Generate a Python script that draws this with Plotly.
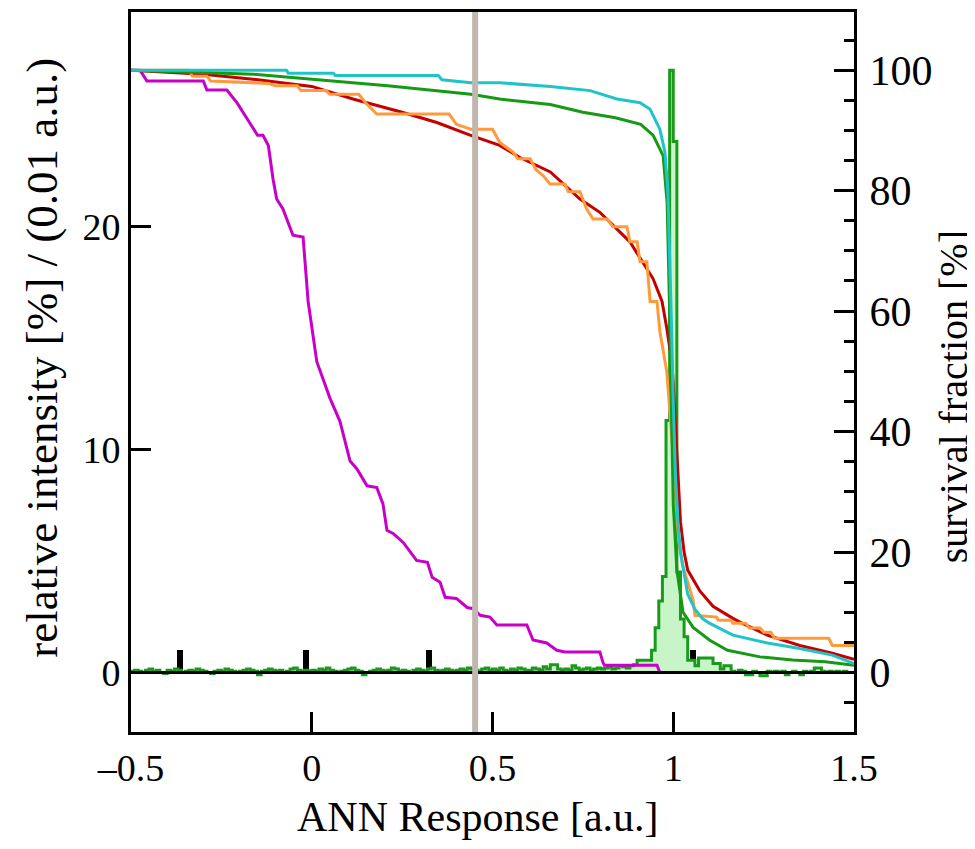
import numpy as np
import plotly.graph_objects as go

# --- datos ---

# histograma verde: intensidad relativa [%] por bin de 0.01 a.u. (de -0.5 a 1.5)
hist_start = -0.5
hist_width = 0.01
hist_green = [
    0.05, 0.1, 0.05, 0.0, 0.1, 0.15, 0.05, 0.1, 0.0, -0.05,
    0.1, 0.05, 0.15, 0.1, 0.0, 0.05, 0.1, 0.05, 0.15, 0.1,
    0.05, 0.0, -0.05, 0.05, 0.1, 0.05, 0.15, 0.1, 0.05, 0.0,
    0.05, 0.1, 0.15, 0.1, 0.05, -0.1, 0.05, 0.1, 0.15, 0.1,
    0.05, 0.1, 0.0, 0.05, 0.15, 0.2, 0.1, 0.05, 0.1, 0.05,
    0.1, 0.05, 0.15, 0.1, 0.2, 0.1, 0.05, 0.0, 0.05, 0.1,
    0.15, 0.2, 0.1, 0.05, -0.1, 0.0, 0.05, 0.1, 0.15, 0.1,
    0.05, 0.1, 0.2, 0.15, 0.05, 0.1, 0.05, 0.0, 0.1, 0.15,
    0.1, 0.05, 0.15, 0.2, 0.1, 0.05, 0.1, 0.15, 0.1, 0.05,
    0.1, 0.15, 0.1, 0.2, 0.15, 0.1, 0.05, 0.15, 0.2, 0.1,
    0.15, 0.1, 0.2, 0.1, 0.05, 0.15, 0.1, 0.2, 0.15, 0.1,
    0.1, 0.2, 0.15, 0.1, 0.25, 0.15, 0.35, 0.35, 0.15, 0.1,
    0.15, 0.1, 0.3, 0.2, 0.1, 0.15, 0.2, 0.1, 0.15, 0.2,
    0.15, 0.2, 0.25, 0.15, 0.2, 0.3, 0.25, 0.2, 0.3, 0.35,
    0.55, 0.55, 0.55, 0.55, 1.0, 2.0, 3.2, 4.3, 11.3, 27.0,
    23.8, 4.5, 2.4, 1.6, 0.55, 0.55, 0.3, 0.65, 0.65, 0.65,
    0.65, 0.4, 0.4, 0.15, 0.3, 0.3, 0.05, 0.0, 0.1, 0.05,
    -0.1, -0.1, 0.05, 0.0, -0.15, -0.15, 0.05, 0.0, 0.05, 0.0,
    0.05, -0.1, 0.0, 0.05, 0.0, -0.1, 0.05, 0.0, 0.05, 0.2,
    0.2, 0.05, 0.0, 0.05, 0.0, 0.05, 0.0, 0.05, 0.0, 0.0,
]

# barras negras (intensidad relativa [%])
black_x = [-0.365, -0.015, 0.325, 1.055]
black_y = [1.0, 1.0, 1.0, 1.0]

# valor de corte (linea gris)
cut_value = 0.452

# fracciones de supervivencia [%]
cyan_x = [-0.5, -0.07, -0.065, 0.06, 0.065, 0.35, 0.36, 0.44, 0.52, 0.66, 0.77,
          0.844, 0.908, 0.936, 0.963, 0.977, 0.985, 0.99, 0.995, 1.0, 1.006, 1.013,
          1.02, 1.04, 1.06, 1.08, 1.1, 1.165, 1.26, 1.35, 1.44, 1.5]
cyan_y = [100, 100, 99.5, 99.5, 99.1, 99.1, 98.4, 97.9, 97.9, 97.3, 96.6,
          95.2, 94.6, 93.5, 90.2, 86.4, 80, 70, 58, 45, 33, 25,
          20, 13, 10.5, 9, 8.2, 6.2, 4.9, 4.0, 2.9, 1.5]

green_x = [-0.5, -0.16, 0.21, 0.44, 0.52, 0.66, 0.75, 0.84, 0.91, 0.944, 0.972,
           0.983, 0.99, 0.995, 1.0, 1.01, 1.027, 1.055, 1.1, 1.15, 1.24, 1.33,
           1.42, 1.5]
green_y = [100, 99.3, 97.4, 96.0, 95.2, 94.3, 93.0, 92.1, 91.0, 89.2, 85.8,
           78, 60, 40, 28, 17, 10, 7.5, 5.4, 3.7, 2.6, 2.1,
           1.8, 1.2]

red_x = [-0.5, -0.3, -0.163, 0.0, 0.114, 0.25, 0.346, 0.438, 0.52, 0.576, 0.66,
         0.742, 0.797, 0.88, 0.944, 0.969, 0.982, 0.995, 1.0, 1.005, 1.01, 1.02,
         1.03, 1.04, 1.074, 1.11, 1.165, 1.19, 1.26, 1.35, 1.44, 1.5]
red_y = [100, 99.3, 98.5, 97.3, 95.2, 93.0, 91.3, 89.2, 87.5, 85.5, 83.1,
         78.6, 76.4, 71.5, 65.4, 61.6, 57.2, 52, 48, 42, 35, 25,
         20, 17, 13.5, 11, 9, 8.2, 6.2, 4.5, 3.2, 2.2]

orange_x = [-0.5, -0.34, -0.33, -0.29, -0.28, -0.12, -0.1, -0.04, -0.03, 0.04,
            0.05, 0.13, 0.15, 0.18, 0.38, 0.4, 0.44, 0.5, 0.52, 0.557, 0.57,
            0.604, 0.62, 0.64, 0.659, 0.7, 0.71, 0.742, 0.76, 0.778, 0.817,
            0.833, 0.872, 0.88, 0.9, 0.908, 0.927, 0.936, 0.955, 0.963, 0.982,
            0.99, 1.0, 1.008, 1.015, 1.025, 1.04, 1.055, 1.06, 1.12, 1.125,
            1.16, 1.165, 1.2, 1.21, 1.24, 1.25, 1.27, 1.28, 1.43, 1.44, 1.5]
orange_y = [100, 100, 99.0, 99.0, 98.2, 97.8, 97.4, 97.4, 96.6, 96.6,
            96.0, 96.0, 94.5, 92.7, 92.7, 91.0, 90.2, 90.2, 88, 86.4, 85.3,
            85.3, 83.5, 82.5, 81.1, 81.1, 79.8, 79.8, 77, 75.3, 75.3,
            74, 74, 71.5, 71.5, 68.2, 68.2, 61.6, 61.6, 56.6, 50,
            44, 36, 28, 22, 18, 15, 12, 9.5, 9.2, 8.7,
            8.7, 8.2, 8.2, 7.4, 7.4, 6.7, 6.7, 5.7, 5.7, 4.5, 4.5]

magenta_x = [-0.5, -0.475, -0.456, -0.3, -0.29, -0.235, -0.207, -0.18, -0.15,
             -0.135, -0.12, -0.107, -0.097, -0.08, -0.052, -0.024, -0.01, 0.014,
             0.031, 0.05, 0.078, 0.106, 0.125, 0.153, 0.18, 0.197, 0.208, 0.225,
             0.253, 0.29, 0.32, 0.333, 0.355, 0.369, 0.4, 0.43, 0.447, 0.466,
             0.493, 0.512, 0.595, 0.612, 0.65, 0.678, 0.7, 0.797, 0.806, 0.81,
             0.955, 0.963]
magenta_y = [100, 100, 98.2, 98.2, 96.7, 96.7, 94.6, 92.1, 89.2,
             89.2, 87.5, 81.9, 78.6, 77, 72.6, 72.3, 61.6, 51.6,
             48.9, 45.6, 41.7, 35.1, 33.8, 31, 30.7, 28, 23.6, 23.1,
             21.6, 18.6, 18.3, 15.8, 15, 12.5, 12.3, 10.8, 10.6, 9.5,
             9.2, 7.9, 7.9, 5.4, 4.9, 3.7, 3.4, 3.4, 1.6, 1.2,
             1.2, 0]

x_ticks = [-0.5, 0, 0.5, 1, 1.5]
x_ticktext = ["\u20130.5", "0", "0.5", "1", "1.5"]
left_ticks = [0, 10, 20]
right_ticks = [0, 20, 40, 60, 80, 100]

colors = {
    "hist": "#1a9a1a",
    "hist_fill": "#c8f5c8",
    "cyan": "#20c4c8",
    "green": "#159a15",
    "red": "#c40000",
    "orange": "#ff9a3c",
    "magenta": "#c800c8",
    "cut": "#c0b7ae",
}

FONT = "Liberation Serif"

fig = go.Figure()

# histograma verde con relleno (eje izquierdo)
edges = hist_start + hist_width * np.arange(len(hist_green) + 1)
fig.add_trace(
    go.Scatter(
        x=edges,
        y=hist_green + [hist_green[-1]],
        mode="lines",
        line=dict(color=colors["hist"], width=3, shape="hv"),
        fill="tozeroy",
        fillcolor=colors["hist_fill"],
        showlegend=False,
    )
)

# barras negras
fig.add_trace(
    go.Bar(
        x=black_x,
        y=black_y,
        width=0.017,
        marker=dict(color="black", line=dict(width=0)),
        showlegend=False,
    )
)

# curvas de supervivencia (eje derecho)
for xs, ys, c in [
    (magenta_x, magenta_y, colors["magenta"]),
    (red_x, red_y, colors["red"]),
    (orange_x, orange_y, colors["orange"]),
    (green_x, green_y, colors["green"]),
    (cyan_x, cyan_y, colors["cyan"]),
]:
    fig.add_trace(
        go.Scatter(
            x=xs,
            y=ys,
            mode="lines",
            line=dict(color=c, width=3),
            yaxis="y2",
            showlegend=False,
        )
    )

# linea de cero y linea de corte
fig.add_shape(type="line", xref="paper", x0=0, x1=1, yref="y", y0=0, y1=0,
              line=dict(color="black", width=3), layer="above")
fig.add_shape(type="line", xref="x", x0=cut_value, x1=cut_value, yref="paper",
              y0=0, y1=1, line=dict(color=colors["cut"], width=6), layer="above")

# titulos de ejes
fig.add_annotation(text="ANN Response [a.u.]", xref="paper", yref="paper",
                   x=0.48, y=-0.1176, showarrow=False, xanchor="center",
                   yanchor="middle", font=dict(size=42, family=FONT, color="black"))
fig.add_annotation(text="relative intensity [%] / (0.01 a.u.)", xref="paper",
                   yref="paper", x=-0.123, y=0.52, textangle=-90, showarrow=False,
                   xanchor="center", yanchor="middle",
                   font=dict(size=45, family=FONT, color="black"))
fig.add_annotation(text="survival fraction [%]", xref="paper", yref="paper",
                   x=1.137, y=0.465, textangle=-90, showarrow=False,
                   xanchor="center", yanchor="middle",
                   font=dict(size=40, family=FONT, color="black"))

# la pagina deja 8 px de margen en el body: se compensa aqui
fig.update_layout(
    width=967,
    height=841,
    margin=dict(l=123, r=121, t=1, b=117),
    plot_bgcolor="white",
    paper_bgcolor="white",
    font=dict(family=FONT, color="black"),
    showlegend=False,
    bargap=0,
    xaxis=dict(
        range=[-0.5, 1.5],
        tickvals=x_ticks,
        ticktext=x_ticktext,
        ticks="inside",
        ticklen=20,
        tickwidth=3,
        tickcolor="black",
        showline=True,
        linecolor="black",
        linewidth=3,
        mirror=True,
        showgrid=False,
        zeroline=False,
        tickfont=dict(size=38, family=FONT),
    ),
    yaxis=dict(
        range=[-2.67, 29.61],
        tickvals=left_ticks,
        ticks="inside",
        ticklen=20,
        tickwidth=3,
        tickcolor="black",
        showline=True,
        linecolor="black",
        linewidth=3,
        showgrid=False,
        zeroline=False,
        tickfont=dict(size=38, family=FONT),
    ),
    yaxis2=dict(
        range=[-9.87, 109.65],
        overlaying="y",
        side="right",
        tickvals=right_ticks,
        ticks="inside",
        ticklen=20,
        tickwidth=3,
        tickcolor="black",
        minor=dict(dtick=5, ticks="inside", ticklen=10, tickwidth=3,
                   tickcolor="black"),
        showline=True,
        linecolor="black",
        linewidth=3,
        showgrid=False,
        zeroline=False,
        tickfont=dict(size=42, family=FONT),
        ticklabelstandoff=4,
    ),
)

fig.write_html("out.html")
